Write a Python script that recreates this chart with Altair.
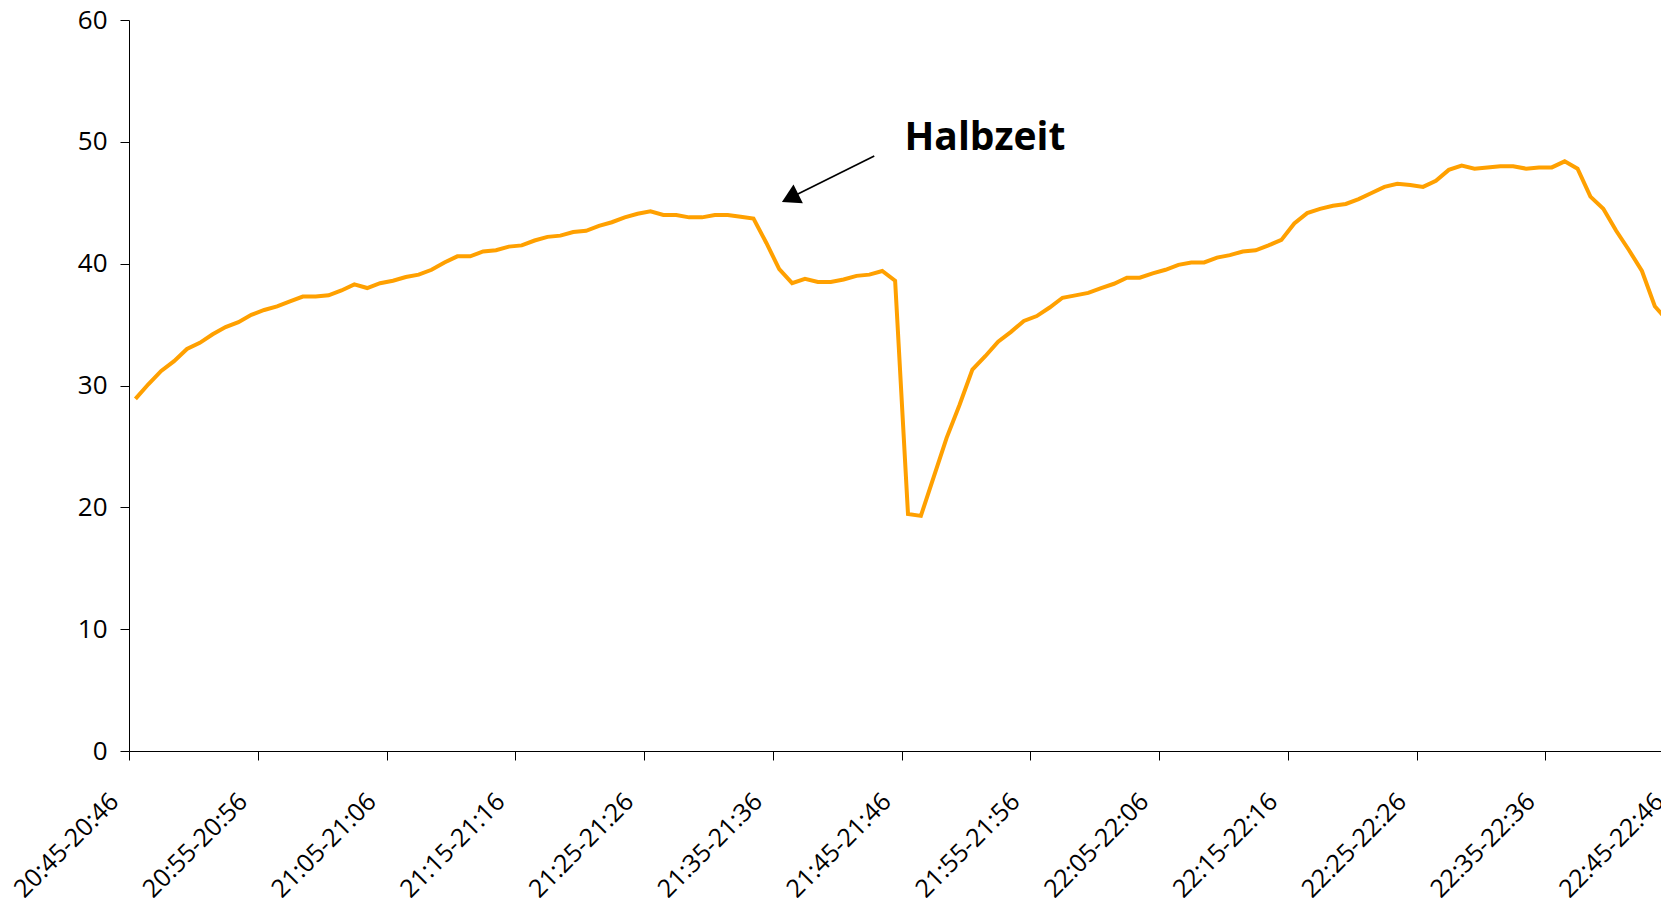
import json
import altair as alt
import pandas as pd

# per-minute categories 20:45-20:46 ... 22:45-22:46
start_min = 20 * 60 + 45
categories = [
    f"{(start_min + k) // 60:02d}:{(start_min + k) % 60:02d}-{(start_min + k + 1) // 60:02d}:{(start_min + k + 1) % 60:02d}"
    for k in range(121)
]

values = [
    28.9, 30.1, 31.2, 32.0, 33.0, 33.5, 34.2, 34.8, 35.2, 35.8,
    36.2, 36.5, 36.9, 37.3, 37.3, 37.4, 37.8, 38.3, 38.0, 38.4,
    38.6, 38.9, 39.1, 39.5, 40.1, 40.6, 40.6, 41.0, 41.1, 41.4,
    41.5, 41.9, 42.2, 42.3, 42.6, 42.7, 43.1, 43.4, 43.8, 44.1,
    44.3, 44.0, 44.0, 43.8, 43.8, 44.0, 44.0, 43.85, 43.7, 41.7,
    39.55, 38.4, 38.75, 38.5, 38.5, 38.7, 39.0, 39.1, 39.4, 38.6,
    19.45, 19.3, 22.5, 25.7, 28.4, 31.3, 32.4, 33.6, 34.4, 35.3,
    35.7, 36.4, 37.2, 37.4, 37.6, 38.0, 38.35, 38.85, 38.85, 39.2,
    39.5, 39.9, 40.1, 40.1, 40.5, 40.7, 41.0, 41.1, 41.5, 41.95,
    43.3, 44.15, 44.5, 44.75, 44.9, 45.3, 45.8, 46.3, 46.55, 46.45,
    46.3, 46.8, 47.7, 48.05, 47.8, 47.9, 48.0, 48.0, 47.8, 47.9,
    47.9, 48.4, 47.8, 45.5, 44.5, 42.7, 41.1, 39.4, 36.5, 35.3,
    26.0,
]

tick_labels = [
    "20:45-20:46", "20:55-20:56", "21:05-21:06", "21:15-21:16", "21:25-21:26",
    "21:35-21:36", "21:45-21:46", "21:55-21:56", "22:05-22:06", "22:15-22:16",
    "22:25-22:26", "22:35-22:36", "22:45-22:46",
]
tick_positions = [10 * k for k in range(len(tick_labels))]
y_ticks = [0, 10, 20, 30, 40, 50, 60]

# annotation (data coordinates)
note_text = ["Halbzeit"]
note_pos = [60.23, 49.33]
arrow_from = [57.88, 48.84]
arrow_to = [51.79, 45.64]
arrow_head = [51.34, 45.39]

df = pd.DataFrame({
    "Zeit": categories[: len(values)],
    "pos": [i + 0.5 for i in range(len(values))],
    "Wert": values,
})

FONT = "Open Sans"
label_expr = json.dumps(tick_labels) + "[round(datum.value / 10)]"

x_scale = alt.Scale(domain=[0, 121], range=[0, 1558], nice=False, zero=False)
y_scale = alt.Scale(domain=[0, 60], nice=False)

x_axis = alt.Axis(
    title=None, values=tick_positions, labelExpr=label_expr, labelAngle=-45,
    labelAlign="right", labelBaseline="middle", labelPadding=37, labelOffset=-15,
    labelFont=FONT, labelFontSize=25, labelColor="#000000", labelOverlap=False,
    labelBound=False, labelFlush=False, tickSize=9, tickColor="#000000",
    domainColor="#000000", grid=False,
)
y_axis = alt.Axis(
    title=None, values=y_ticks, labelFont=FONT, labelFontSize=26,
    labelColor="#000000", labelPadding=13, tickSize=9, tickColor="#000000",
    domainColor="#000000", grid=False,
)

line = alt.Chart(df).mark_line(color="#FFA000", strokeWidth=4).encode(
    x=alt.X("pos:Q", scale=x_scale, axis=x_axis),
    y=alt.Y("Wert:Q", scale=y_scale, axis=y_axis),
    order="pos:Q",
)

note_df = pd.DataFrame({"x": [note_pos[0]], "y": [note_pos[1]], "t": note_text})
note = alt.Chart(note_df).mark_text(
    font=FONT, fontSize=39, fontWeight="bold", align="left",
    baseline="alphabetic", color="#000000",
).encode(x=alt.X("x:Q", scale=x_scale), y=alt.Y("y:Q", scale=y_scale), text="t:N")

arrow_df = pd.DataFrame({
    "x": [arrow_from[0]], "y": [arrow_from[1]],
    "x2": [arrow_to[0]], "y2": [arrow_to[1]],
})
arrow = alt.Chart(arrow_df).mark_rule(color="#000000", strokeWidth=1.7).encode(
    x=alt.X("x:Q", scale=x_scale), y=alt.Y("y:Q", scale=y_scale), x2="x2:Q", y2="y2:Q",
)

head_df = pd.DataFrame({"x": [arrow_head[0]], "y": [arrow_head[1]]})
head = alt.Chart(head_df).mark_point(
    shape="triangle-up", filled=True, size=441, angle=243.4,
    color="#000000", opacity=1, strokeWidth=0,
).encode(x=alt.X("x:Q", scale=x_scale), y=alt.Y("y:Q", scale=y_scale))

chart = alt.layer(line, arrow, head, note).properties(
    width=1532, height=731,
    autosize=alt.AutoSizeParams(type="none"),
    padding={"left": 121, "top": 12, "right": 0, "bottom": 147},
    background="#ffffff",
).configure_view(stroke=None)

chart.save("out.html", embed_options={"renderer": "svg", "actions": False})
